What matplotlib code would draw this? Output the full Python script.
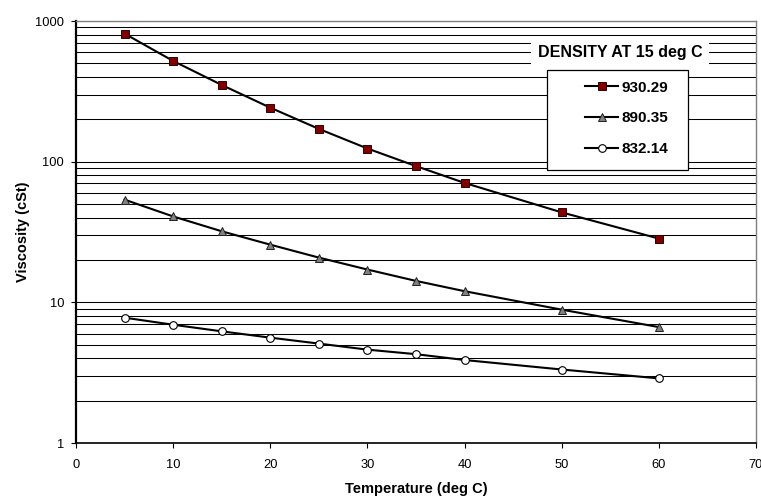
import matplotlib.pyplot as plt
import numpy as np
from matplotlib.patches import Rectangle
from matplotlib.ticker import FixedLocator, NullFormatter

plt.rcParams['font.family'] = ['Liberation Sans', 'DejaVu Sans']

temp = [5, 10, 15, 20, 25, 30, 35, 40, 50, 60]

# viscosity (cSt) for each density at 15 deg C
visc_930 = [813, 520, 351, 242, 171, 124, 93, 70.6, 43.6, 28.4]
visc_890 = [53.7, 40.8, 32.0, 25.7, 20.8, 17.1, 14.2, 12.0, 8.87, 6.67]
visc_832 = [7.78, 6.93, 6.22, 5.61, 5.09, 4.61, 4.28, 3.89, 3.33, 2.88]

labels = ['930.29', '890.35', '832.14']

fig = plt.figure(figsize=(7.61, 4.96), dpi=100)
ax = fig.add_axes([76 / 761, 1 - 443 / 496, 680 / 761, 422 / 496])

ax.plot(temp, visc_930, color='black', lw=1.5, marker='s', ms=5.2,
        mfc='#800000', mec='#300000', mew=0.7, label=labels[0], zorder=3)
ax.plot(temp, visc_890, color='black', lw=1.5, marker='^', ms=5.8,
        mfc='#808080', mec='#202020', mew=0.7, label=labels[1], zorder=3)
ax.plot(temp, visc_832, color='black', lw=1.5, marker='o', ms=5.5,
        mfc='white', mec='black', mew=0.8, label=labels[2], zorder=3)

ax.set_yscale('log')
ax.set_ylim(1, 1000)
ax.set_xlim(0, 70)
ax.set_xticks(np.arange(0, 71, 10))
ax.set_yticks([1, 10, 100, 1000])
ax.set_yticklabels(['1', '10', '100', '1000'])

# horizontal grid at every 1..9 step of each decade
minor = [m * 10 ** d for d in range(3) for m in range(2, 10)]
ax.yaxis.set_minor_locator(FixedLocator(minor))
ax.yaxis.set_minor_formatter(NullFormatter())
ax.grid(True, axis='y', which='both', color='black', lw=0.75)
ax.tick_params(axis='y', which='minor', length=0)
ax.tick_params(axis='both', which='major', length=3.5, width=0.8,
               labelsize=9.3, color='black')
ax.tick_params(axis='x', pad=8)
ax.tick_params(axis='y', pad=5)

for side in ['left', 'bottom']:
    ax.spines[side].set_color('black')
ax.spines['left'].set_linewidth(1.6)
ax.spines['bottom'].set_linewidth(1.2)
for side in ['top', 'right']:
    ax.spines[side].set_color('#808080')
    ax.spines[side].set_linewidth(1.0)

ax.set_xlabel('Temperature (deg C)', fontsize=10.5, fontweight='bold', labelpad=8)
ax.set_ylabel('Viscosity (cSt)', fontsize=10.5, fontweight='bold', labelpad=4)

# legend box with its heading sitting above it
ax.add_patch(Rectangle((0.6926, 0.647), 0.2074, 0.2369, transform=ax.transAxes,
                       facecolor='white', edgecolor='black', lw=0.9, zorder=4))
ax.text(0.8000, 0.9265, 'DENSITY AT 15 deg C', transform=ax.transAxes,
        ha='center', va='center', fontsize=11.5, fontweight='bold', zorder=6,
        bbox=dict(facecolor='white', edgecolor='none', pad=5))
leg = ax.legend(loc='upper left', bbox_to_anchor=(0.738, 0.877), frameon=False,
                borderpad=0, handlelength=2.1, handletextpad=0.25,
                labelspacing=1.1, prop={'weight': 'bold', 'size': 11})
leg.set_zorder(6)

fig.savefig('out.png', dpi=100)
